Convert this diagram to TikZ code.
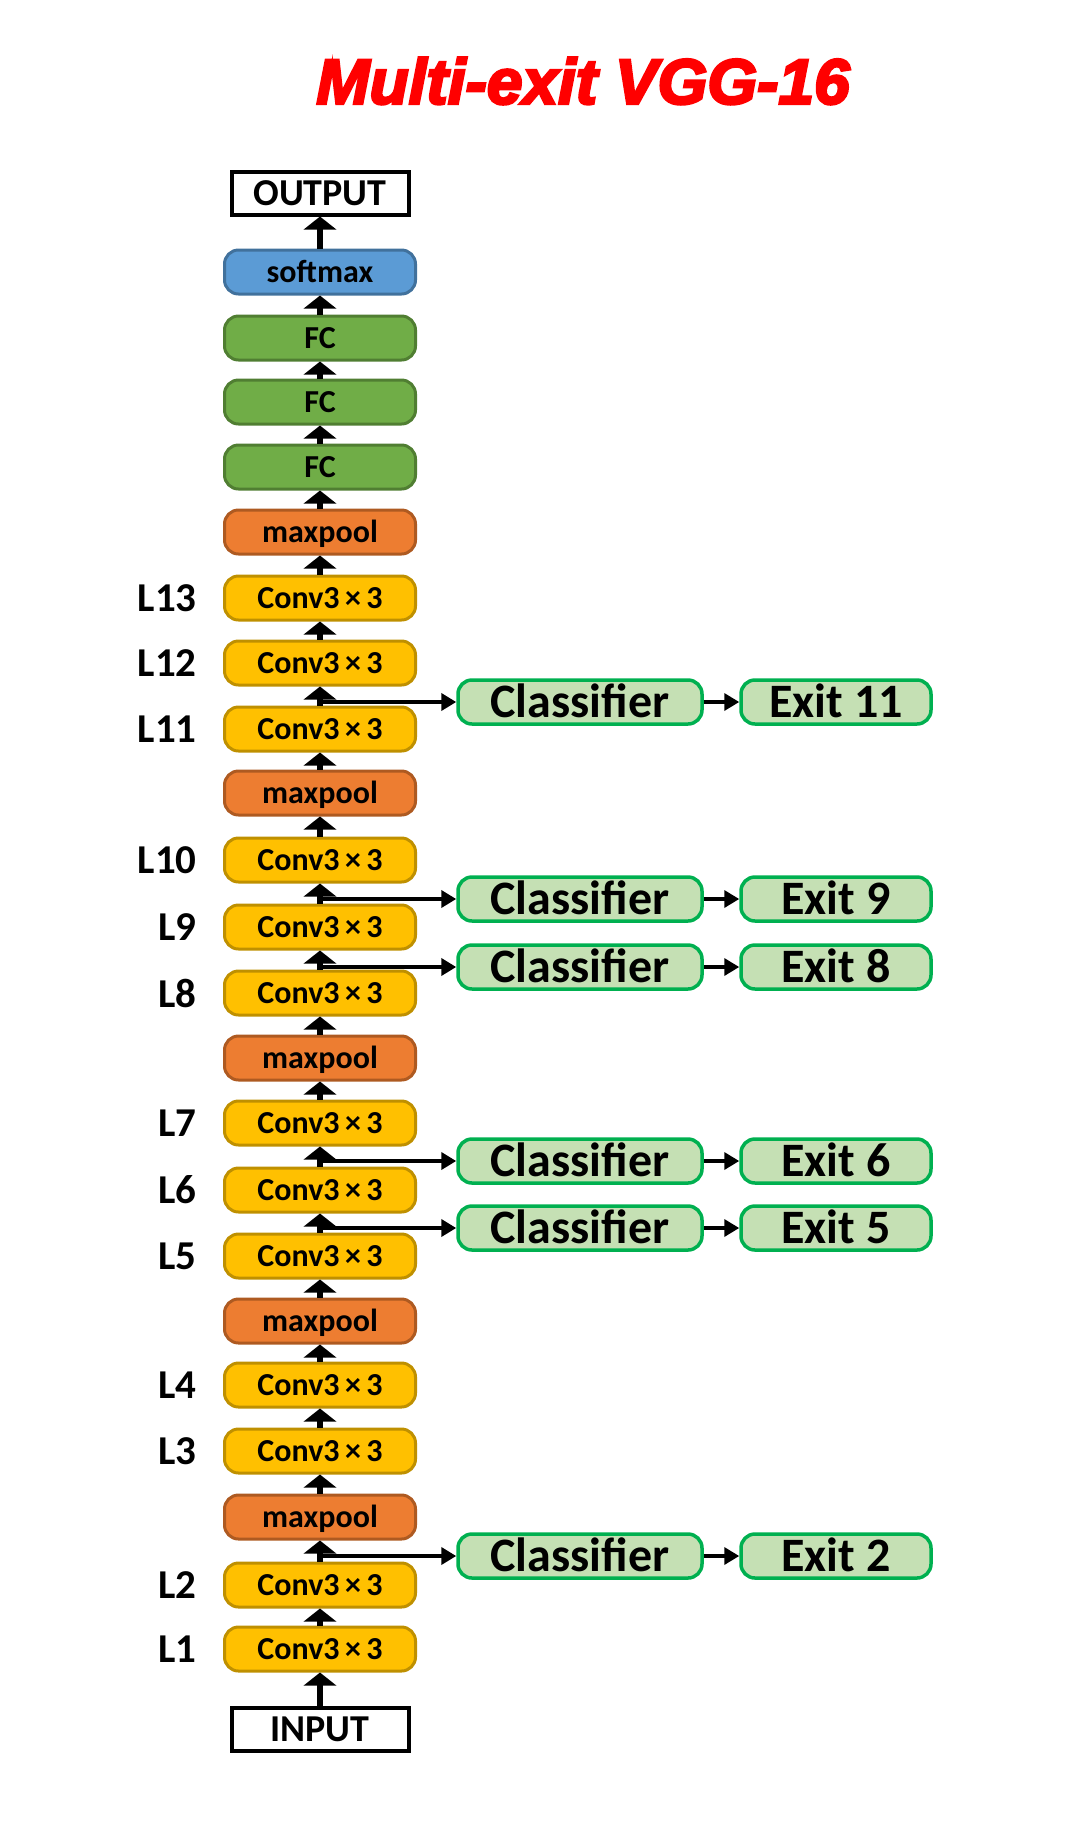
\documentclass[tikz,border=0pt]{standalone}
\usepackage{fontspec}
\setmainfont{Carlito}
\newfontfamily\titlefont{Liberation Sans}[BoldItalicFeatures={FakeBold=4}]
\usetikzlibrary{positioning,arrows.meta}

\definecolor{convfill}{HTML}{FFC000}
\definecolor{convline}{HTML}{BF9000}
\definecolor{poolfill}{HTML}{ED7D31}
\definecolor{poolline}{HTML}{AE5A21}
\definecolor{fcfill}{HTML}{70AD47}
\definecolor{fcline}{HTML}{507E32}
\definecolor{softfill}{HTML}{5B9BD5}
\definecolor{softline}{HTML}{41719C}
\definecolor{exitfill}{HTML}{C5E0B4}
\definecolor{exitline}{HTML}{00B050}

\begin{document}
\begin{tikzpicture}[x=0.5pt,y=-0.5pt,
	layer/.style={draw, line width=1.5pt, rounded corners=7pt, minimum width=95.5pt, minimum height=22pt, inner sep=0pt, text height=10.3pt, text depth=0pt, font=\fontsize{16}{18}\selectfont\bfseries},
	conv/.style={layer, fill=convfill, draw=convline},
	pool/.style={layer, fill=poolfill, draw=poolline},
	fc/.style={layer, fill=fcfill, draw=fcline},
	soft/.style={layer, fill=softfill, draw=softline},
	io/.style={draw, line width=2pt, minimum width=88.5pt, minimum height=21.5pt, inner sep=0pt, text height=12.2pt, text depth=0pt, font=\fontsize{19}{21}\selectfont\bfseries},
	exitbox/.style={draw=exitline, fill=exitfill, line width=1.75pt, rounded corners=7pt, minimum height=22pt, inner sep=0pt, text height=15.5pt, text depth=0pt, font=\fontsize{24}{26}\selectfont\bfseries},
	lname/.style={inner sep=0pt, font=\fontsize{20.5}{22}\selectfont\bfseries},
	uparrow/.style={line width=3pt, -{Triangle[width=16pt,length=6.5pt]}},
	sidearrow/.style={line width=2pt, -{Triangle[width=8.5pt,length=7.5pt]}}]
	\useasboundingbox (0,0) rectangle (1079,1838);

	\node[text=red, font=\titlefont\fontsize{32}{34}\selectfont\bfseries\itshape] (title) at (583,81) {Multi-exit VGG-16};

	% the network, bottom to top
	\node[io] (in) at (320,1729) {INPUT};
	\node[conv] (c1) at (320,1649) {Conv3\,×\,3};
	\node[conv] (c2) at (320,1585) {Conv3\,×\,3};
	\node[pool] (p1) at (320,1517) {maxpool};
	\node[conv] (c3) at (320,1451) {Conv3\,×\,3};
	\node[conv] (c4) at (320,1385) {Conv3\,×\,3};
	\node[pool] (p2) at (320,1321) {maxpool};
	\node[conv] (c5) at (320,1256) {Conv3\,×\,3};
	\node[conv] (c6) at (320,1190) {Conv3\,×\,3};
	\node[conv] (c7) at (320,1123) {Conv3\,×\,3};
	\node[pool] (p3) at (320,1058) {maxpool};
	\node[conv] (c8) at (320,993) {Conv3\,×\,3};
	\node[conv] (c9) at (320,927) {Conv3\,×\,3};
	\node[conv] (c10) at (320,860) {Conv3\,×\,3};
	\node[pool] (p4) at (320,793) {maxpool};
	\node[conv] (c11) at (320,729) {Conv3\,×\,3};
	\node[conv] (c12) at (320,663) {Conv3\,×\,3};
	\node[conv] (c13) at (320,598) {Conv3\,×\,3};
	\node[pool] (p5) at (320,532) {maxpool};
	\node[fc] (fc1) at (320,467) {FC};
	\node[fc] (fc2) at (320,402) {FC};
	\node[fc] (fc3) at (320,338) {FC};
	\node[soft] (sm) at (320,272) {softmax};
	\node[io] (out) at (320,193) {OUTPUT};

	% layer numbers
	\foreach \i in {1,...,13}
		\node[lname, left=13pt of c\i] (l\i) {L\i};

	\foreach \a/\b in {in/c1,c1/c2,c2/p1,p1/c3,c3/c4,c4/p2,p2/c5,c5/c6,c6/c7,c7/p3,p3/c8,c8/c9,c9/c10,c10/p4,p4/c11,c11/c12,c12/c13,c13/p5,p5/fc1,fc1/fc2,fc2/fc3,fc3/sm,sm/out}
		\draw[uparrow] (\a) -- (\b);

	% early exits
	\foreach \k/\y/\src in {2/1556/c2,5/1228/c5,6/1161/c6,8/967/c8,9/899/c9,11/702/c11}{
		\node[exitbox, minimum width=122pt] (cls\k) at (580,\y) {Classifier};
		\node[exitbox, minimum width=95pt] (exit\k) at (836,\y) {Exit \k};
		\draw[sidearrow] (\src |- cls\k) -- (cls\k);
		\draw[sidearrow, line width=1.7pt] (cls\k) -- (exit\k);
	}
\end{tikzpicture}
\end{document}
